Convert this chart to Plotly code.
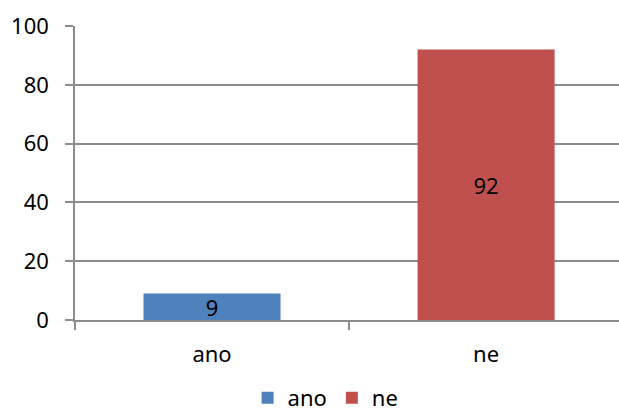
import plotly.graph_objects as go

categories = ["ano", "ne"]
values = [9, 92]
colors = ["#4F81BD", "#C0504D"]
y_ticks = [0, 20, 40, 60, 80, 100]

FONT = "Noto Sans"
GRID = "#8C8C8C"
FS = 22

fig = go.Figure()
for cat, val, col in zip(categories, values, colors):
    fig.add_trace(go.Bar(
        x=[cat], y=[val], name=cat, marker=dict(color=col, line=dict(width=0)),
        width=0.5, text=[str(val)], textposition="inside",
        insidetextanchor="middle", textangle=0,
        textfont=dict(family=FONT, size=FS, color="black"),
    ))

fig.update_layout(
    width=619, height=419,
    margin=dict(l=75, r=0, t=26, b=99, autoexpand=False),
    plot_bgcolor="white", paper_bgcolor="white",
    barmode="overlay",
    uniformtext=dict(minsize=FS, mode="show"),
    font=dict(family=FONT, size=FS, color="black"),
    showlegend=True,
    legend=dict(orientation="h", xref="container", yref="container",
                x=0.40, xanchor="left", y=0.0, yanchor="bottom",
                borderwidth=0,
                font=dict(family=FONT, size=FS), itemwidth=30, tracegroupgap=0),
    xaxis=dict(
        type="category", range=[-0.5, 1.485], tickson="boundaries",
        ticks="outside", ticklen=8, tickwidth=1.5, tickcolor=GRID,
        showline=True, linecolor=GRID, linewidth=1.5, automargin=False,
        showgrid=False, ticklabelstandoff=14,
        tickfont=dict(family=FONT, size=FS),
    ),
    yaxis=dict(
        range=[0, 100], tickvals=y_ticks, ticks="outside", ticklen=8,
        tickwidth=1.5, tickcolor=GRID, automargin=False,
        showline=True, linecolor=GRID, linewidth=1.5,
        showgrid=True, gridcolor=GRID, gridwidth=1.5, zeroline=False,
        ticklabelstandoff=12, tickfont=dict(family=FONT, size=FS),
    ),
)

fig.write_html("out.html", config={"displayModeBar": False},
               post_script="document.body.style.margin='0';document.body.style.overflow='hidden';")
